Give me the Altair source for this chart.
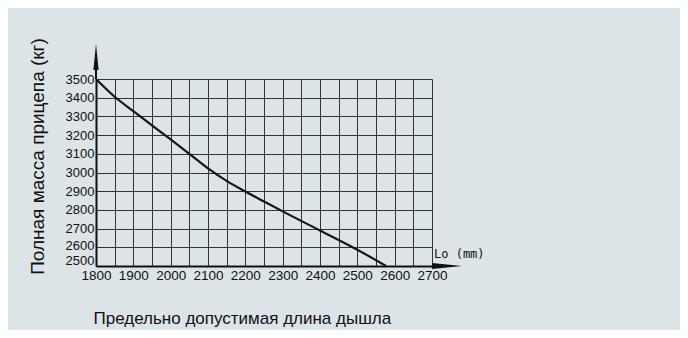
import altair as alt
import pandas as pd

# Curve
length_mm = [1800, 1850, 1900, 1950, 2000, 2050, 2100, 2150, 2200, 2250, 2300, 2400, 2500, 2577]
mass_kg = [3500, 3405, 3328, 3252, 3177, 3100, 3022, 2955, 2898, 2845, 2792, 2690, 2587, 2500]

x_ticks = list(range(1800, 2701, 50))
y_ticks = list(range(2500, 3501, 100))

x_title = "Предельно допустимая длина дышла"
y_title = "Полная масса прицепа (кг)"
unit_label = "Lo (mm)"

BG = "#dde4e7"
FONT = "Liberation Sans, Arial, sans-serif"
W, H = 336, 187

df = pd.DataFrame({"len": length_mm, "mass": mass_kg})
one = alt.Data(values=[{}])

curve = alt.Chart(df).mark_line(color="#151515", strokeWidth=2.2, interpolate="monotone").encode(
    x=alt.X("len:Q", scale=alt.Scale(domain=[1800, 2700], nice=False, zero=False),
            axis=alt.Axis(values=x_ticks, format="d",
                          labelExpr="datum.value % 100 === 0 ? datum.label : ''",
                          ticks=False, labelPadding=2, labelFlush=False, labelOverlap=False,
                          labelFont=FONT, labelFontSize=13.5, labelColor="#111",
                          grid=True, gridColor="#333", gridWidth=1,
                          domainColor="#111", domainWidth=2,
                          title=x_title, titleFont=FONT, titleFontSize=17, titleFontWeight="normal",
                          titleColor="#111", titleAlign="left", titleBaseline="alphabetic",
                          titleX=-3, titleY=57)),
    y=alt.Y("mass:Q", scale=alt.Scale(domain=[2500, 3500], nice=False, zero=False),
            axis=alt.Axis(values=y_ticks, format="d", ticks=False, labelPadding=2,
                          labelFlush=False, labelOverlap=False,
                          labelOffset={"condition": [
                              {"test": "datum.value === 2500", "value": -6},
                              {"test": "datum.value === 2600", "value": -2}],
                              "value": 0},
                          labelFont=FONT, labelFontSize=13, labelColor="#111",
                          grid=True, gridColor="#333", gridWidth=1,
                          domainColor="#111", domainWidth=2,
                          title=y_title, titleFont=FONT, titleFontSize=19, titleFontWeight="normal",
                          titleColor="#111", titleAngle=-90, titleAlign="center",
                          titleBaseline="alphabetic", titleX=-53, titleY=77)),
)

y_shaft = alt.Chart(one).mark_rule(color="#111", strokeWidth=2).encode(
    x=alt.value(0), y=alt.value(-12), y2=alt.value(0))

y_head = alt.Chart(one).mark_point(
    shape="M0,-1L0.2,1L-0.2,1Z", size=676, filled=True, color="#111", opacity=1
).encode(x=alt.value(0), y=alt.value(-22))

x_head = alt.Chart(one).mark_point(
    shape="M1,0L-1,-0.2L-1,0.2Z", size=900, filled=True, color="#111", opacity=1
).encode(x=alt.value(W + 15), y=alt.value(H))

unit = alt.Chart(one).mark_text(
    font="DejaVu Sans Mono", fontSize=12, color="#111", align="left", baseline="alphabetic"
).encode(x=alt.value(W + 2), y=alt.value(H - 8), text=alt.value(unit_label))

chart = alt.layer(curve, y_shaft, y_head, x_head, unit).properties(
    width=W, height=H,
    autosize=alt.AutoSizeParams(type="none"),
    padding={"left": 88, "top": 71, "right": 248, "bottom": 64},
    background=BG,
).configure_view(stroke=None)

chart.save("out.html", embed_options={"renderer": "svg", "actions": False})
